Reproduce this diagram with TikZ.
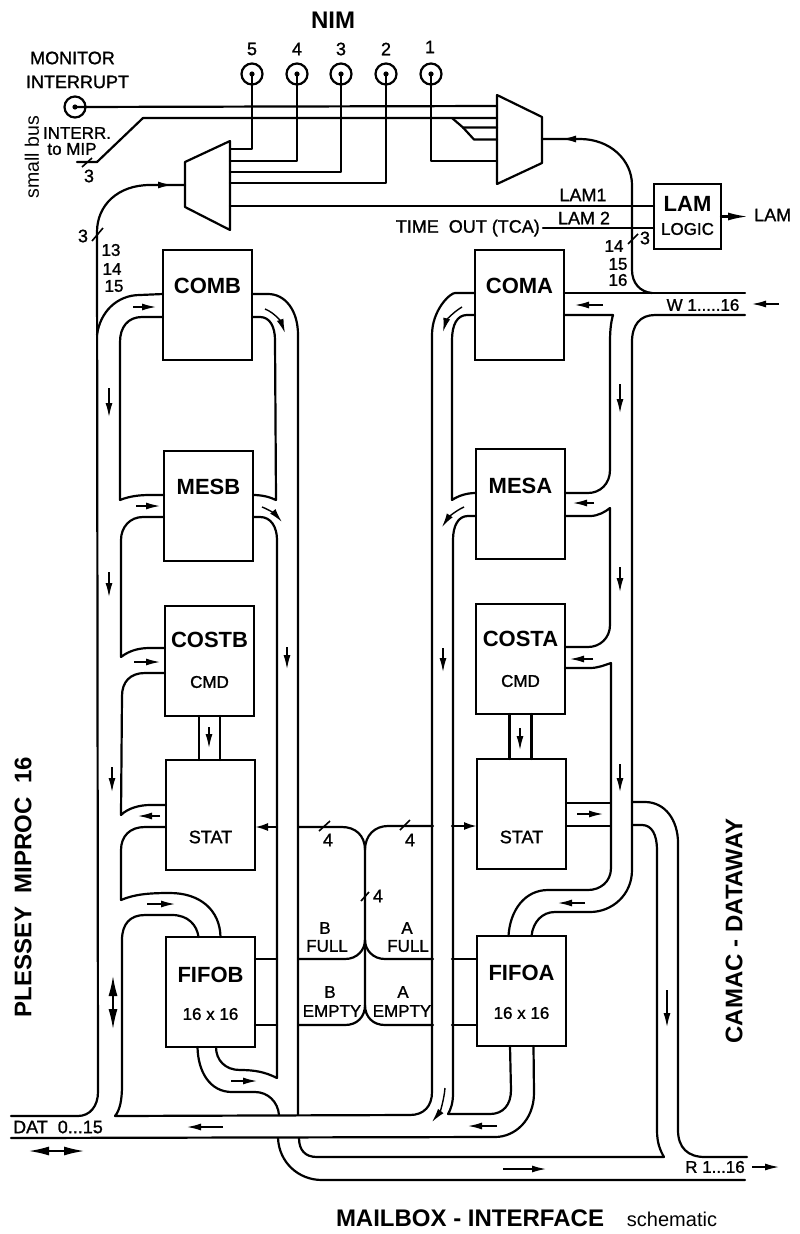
\documentclass[tikz,border=0pt]{standalone}
\usepackage{fontspec}
\setmainfont{Liberation Sans}
\newfontfamily\draftfont[FakeBold=1.2]{Liberation Sans}
\usetikzlibrary{arrows.meta, positioning}

\begin{document}
\begin{tikzpicture}[
  x=1pt, y=-1pt,
  blockbox/.style={
    rectangle, draw=black, line width=2.2pt, outer sep=0pt, inner sep=0pt,
    minimum width=89pt, minimum height=110pt,
  },
  coax/.style={circle, draw=black, line width=2.2pt, minimum size=21pt, inner sep=0pt},
  wire/.style={line width=2.2pt, black, line cap=round, line join=round},
  tick/.style={line width=1.6pt, black},
  flow/.style={line width=1.4pt, black, -{Latex[length=14pt, width=7pt]}},
  flowbig/.style={line width=1.4pt, black, {Latex[length=20pt, width=9pt]}-{Latex[length=20pt, width=9pt]}},
  blocktitle/.style={font=\fontsize{22}{24}\selectfont\bfseries, inner sep=0pt},
  bigtitle/.style={font=\fontsize{24}{26}\selectfont\bfseries, inner sep=0pt},
  blocktext/.style={font=\fontsize{17}{19}\selectfont\draftfont, inner sep=0pt},
  signal/.style={font=\fontsize{18}{20}\selectfont\draftfont, inner sep=0pt},
]
\useasboundingbox (0,0) rectangle (800,1234);

% B column
\node[blockbox, anchor=north west] (COMB) at (163,250) {};
\node[blockbox, below=91pt of COMB, xshift=1pt] (MESB) {};
\node[blockbox, below=45pt of MESB, xshift=1pt] (COSTB) {};
\node[blockbox, below=44pt of COSTB, xshift=1pt] (STATB) {};
\node[blockbox, below=67pt of STATB] (FIFOB) {};

% A column
\node[blockbox, right=223pt of COMB] (COMA) {};
\node[blockbox, below=89pt of COMA, xshift=1pt] (MESA) {};
\node[blockbox, below=45pt of MESA] (COSTA) {};
\node[blockbox, below=45pt of COSTA, xshift=1pt] (STATA) {};
\node[blockbox, below=67pt of STATA] (FIFOA) {};

\node[rectangle, draw=black, line width=2.2pt, outer sep=0pt, minimum width=67pt, minimum height=65pt, anchor=north west] (LAMBOX) at (654,184) {};

% block texts
\node[blocktitle] (combtitle) at ([yshift=-36pt]COMB.north) {COMB};
\node[blocktitle] (mesbtitle) at ([yshift=-36pt]MESB.north) {MESB};
\node[blocktitle] (costbtitle) at ([yshift=-34pt]COSTB.north) {COSTB};
\node[blocktext] (cmdb) at ([yshift=-76pt]COSTB.north) {CMD};
\node[signal] (statb) at ([yshift=-77pt]STATB.north) {STAT};
\node[blocktitle] (fifobtitle) at ([yshift=-38pt]FIFOB.north) {FIFOB};
\node[blocktext] (fifobsize) at ([yshift=-77pt]FIFOB.north) {16 x 16};
\node[blocktitle] (comatitle) at ([yshift=-36pt]COMA.north) {COMA};
\node[blocktitle] (mesatitle) at ([yshift=-37pt]MESA.north) {MESA};
\node[blocktitle] (costatitle) at ([yshift=-35pt]COSTA.north) {COSTA};
\node[blocktext] (cmda) at ([yshift=-77pt]COSTA.north) {CMD};
\node[signal] (stata) at ([yshift=-78pt]STATA.north) {STAT};
\node[blocktitle] (fifoatitle) at ([yshift=-37pt]FIFOA.north) {FIFOA};
\node[blocktext] (fifoasize) at ([yshift=-77pt]FIFOA.north) {16 x 16};
\node[blocktitle] (lamtitle) at ([yshift=-20pt]LAMBOX.north) {LAM};
\node[blocktext] (lamlogic) at ([yshift=-45pt]LAMBOX.north) {LOGIC};

% multiplexers
\draw[wire] (230,141) -- (185,162) -- (185,207) -- (230,230) -- cycle;
\draw[wire] (497,95) -- (542,117) -- (542,163) -- (497,184) -- cycle;
\coordinate (muxlin) at (185,185);
\coordinate (muxl5) at (230,149);
\coordinate (muxl4) at (230,161);
\coordinate (muxl3) at (230,172);
\coordinate (muxl2) at (230,183);
\coordinate (muxl1) at (230,206);
\coordinate (muxra) at (497,106);
\coordinate (muxrb) at (497,118);
\coordinate (muxrc) at (497,127.5);
\coordinate (muxrd) at (497,139.5);
\coordinate (muxre) at (497,161);
\coordinate (muxrout) at (542,139);

% connectors on top
\node[coax] (mon) at (75,107) {};
\fill (mon.center) circle (2.6pt);
\node[coax] (nim5) at (252,74) {};
\fill (nim5.center) circle (2.6pt);
\node[coax] (nim4) at (297,74) {};
\fill (nim4.center) circle (2.6pt);
\node[coax] (nim3) at (341,74) {};
\fill (nim3.center) circle (2.6pt);
\node[coax] (nim2) at (386,74) {};
\fill (nim2.center) circle (2.6pt);
\node[coax] (nim1) at (431,74) {};
\fill (nim1.center) circle (2.6pt);
\draw[wire] (nim5.center) |- (muxl5);
\draw[wire] (nim4.center) |- (muxl4);
\draw[wire] (nim3.center) |- (muxl3);
\draw[wire] (nim2.center) |- (muxl2);
\draw[wire] (nim1.center) |- (muxre);
\draw[wire] (mon.center) -- (muxra);
\draw[wire] (77,162) -- (97,162) -- (143,118) -- (muxrb);
\draw[wire] (452,118) -- (463,127.5) -- (muxrc);
\draw[wire] (463,127.5) -- (474,139.5) -- (muxrd);
\draw[wire] (muxl1) -- ([yshift=-22pt]LAMBOX.north west);
\draw[tick] (82,167) -- (92,158);

% left trunk
\draw[wire] (muxlin) -- (150,185) .. controls (118,185) and (97,205) .. (97,232) -- (98,1092)
  .. controls (98,1106) and (90,1116) .. (78,1116) -- (11,1116);
\draw[tick] (92,241) -- (103,228);
\draw[wire] ([yshift=-44pt]COMB.north west) -- (140,295) .. controls (117,295) and (100,312) .. (97,335);
\draw[wire] ([yshift=-67pt]COMB.north west) -- (142,317) .. controls (128,317) and (120,327) .. (120,342) -- (120,500)
  .. controls (130,496) and (140,495) .. (150,495) -- ([yshift=-44pt]MESB.north west);
\draw[wire] ([yshift=-66pt]MESB.north west) -- (143,517) .. controls (130,517) and (121,527) .. (121,540) -- (121,657)
  .. controls (130,650) and (140,648) .. (150,648) -- ([yshift=-42pt]COSTB.north west);
\draw[wire] ([yshift=-67pt]COSTB.north west) -- (145,673) .. controls (130,673) and (122,682) .. (122,696) -- (121,815)
  .. controls (128,808) and (140,805) .. (150,805) -- ([yshift=-45pt]STATB.north west);
\draw[wire] ([yshift=-67pt]STATB.north west) -- (145,827) .. controls (130,827) and (121,836) .. (121,850) -- (121,900)
  .. controls (135,894) and (150,893) .. (170,893) .. controls (200,893) and (220,910) .. ([xshift=10pt]FIFOB.north);
\draw[wire] ([xshift=-12pt]FIFOB.north) .. controls (197,925) and (188,915) .. (172,915) -- (145,915)
  .. controls (130,915) and (122,924) .. (122,940) -- (122,1085) .. controls (122,1100) and (120,1110) .. (115,1116)
  -- (410,1115) .. controls (424,1115) and (432,1106) .. (432,1092) -- (432,335) .. controls (432,310) and (450,293) .. (455,293)
  -- ([yshift=-43pt]COMA.north west);

% B right side
\draw[wire] ([yshift=-44pt]COMB.north east) -- (268,294) .. controls (285,294) and (298,310) .. (298,335) -- (298,1115);
\draw[wire] ([yshift=-67pt]COMB.north east) -- (260,317) .. controls (270,317) and (275,327) .. (275,340) -- (276,500)
  .. controls (270,497) and (262,495) .. ([yshift=-44pt]MESB.north east);
\draw[wire] ([yshift=-66pt]MESB.north east) -- (260,517) .. controls (271,517) and (277,527) .. (277,540) -- (277,1078)
  .. controls (265,1072) and (255,1070) .. (240,1070) .. controls (225,1070) and (216,1060) .. ([xshift=5.5pt]FIFOB.south);
\draw[wire] ([xshift=-13pt]FIFOB.south) .. controls (198,1072) and (210,1092) .. (232,1092) -- (255,1092)
  .. controls (268,1092) and (278,1102) .. (279,1115);
\draw[wire] ([xshift=-10.5pt]COSTB.south) -- ([xshift=-11.5pt]STATB.north);
\draw[wire] ([xshift=10.5pt]COSTB.south) -- ([xshift=9.5pt]STATB.north);
\draw[wire] ([yshift=-22pt]FIFOB.north east) -- ++(22,0);
\draw[wire] ([yshift=-88pt]FIFOB.north east) -- ++(22,0);
\draw[wire, {Latex[length=13pt, width=8pt]}-] ([yshift=-67pt]STATB.north east) -- ++(22,0);

% status lines between the columns
\draw[wire] ([yshift=-67pt, xshift=44pt]STATB.north east) -- (342,827) .. controls (355,827) and (365,835) .. (365,850)
  -- (365,1005) .. controls (365,1017) and (357,1025) .. (345,1025) -- ([yshift=-88pt, xshift=44pt]FIFOB.north east);
\draw[wire] ([yshift=-67pt, xshift=-44pt]STATA.north west) -- (388,826) .. controls (375,826) and (365,835) .. (365,850);
\draw[wire] ([yshift=-22pt, xshift=44pt]FIFOB.north east) -- (345,959) .. controls (357,959) and (365,950) .. (365,940);
\draw[wire] ([yshift=-23pt, xshift=-44pt]FIFOA.north west) -- (385,959) .. controls (373,959) and (365,950) .. (365,940);
\draw[wire] ([yshift=-89pt, xshift=-44pt]FIFOA.north west) -- (385,1025) .. controls (373,1025) and (365,1017) .. (365,1005);
\draw[tick] (319,831) -- (330,821);
\draw[tick] (400,830) -- (410,820);
\draw[tick] (361,901) -- (369,892);

% A left side
\draw[wire] ([yshift=-65pt]COMA.north west) -- (467,315) .. controls (457,315) and (452,325) .. (452,340) -- (452,500)
  .. controls (458,496) and (466,493) .. ([yshift=-44pt]MESA.north west);
\draw[wire] ([yshift=-67pt]MESA.north west) -- (468,516) .. controls (458,516) and (453,526) .. (453,540) -- (453,1093)
  .. controls (453,1103) and (451,1109) .. (448,1114) -- (490,1114) .. controls (503,1114) and (511,1105) .. (511,1090)
  -- ([xshift=-11.5pt]FIFOA.south);
\draw[wire] ([xshift=12pt]FIFOA.south) -- (534,1093) .. controls (534,1120) and (515,1137) .. (495,1137) -- (11,1138);
\draw[wire] ([xshift=-11pt]COSTA.south) -- ([xshift=-12pt]STATA.north);
\draw[wire] ([xshift=11pt]COSTA.south) -- ([xshift=10pt]STATA.north);
\draw[wire, {Latex[length=13pt, width=8pt]}-] ([yshift=-67pt]STATA.north west) -- ++(-25,0);
\draw[wire] ([yshift=-23pt]FIFOA.north west) -- ++(-25,0);
\draw[wire] ([yshift=-89pt]FIFOA.north west) -- ++(-25,0);

% A right side
\draw[wire] ([yshift=-43pt]COMA.north east) -- (745,293);
\draw[wire] ([yshift=-65pt]COMA.north east) -- (613,315) .. controls (611,322) and (610,330) .. (610,342) -- (610,470)
  .. controls (610,484) and (600,493) .. (588,493) -- ([yshift=-44pt]MESA.north east);
\draw[wire] ([yshift=-67pt]MESA.north east) -- (590,516) .. controls (598,516) and (605,512) .. (610,508) -- (610,625)
  .. controls (610,638) and (600,647) .. (588,647) -- ([yshift=-43pt]COSTA.north east);
\draw[wire] ([yshift=-64pt]COSTA.north east) -- (590,668) .. controls (598,668) and (605,665) .. (611,663) -- (611,868)
  .. controls (611,882) and (600,890) .. (588,890) -- (548,890) .. controls (525,890) and (510,910) .. ([xshift=-13pt]FIFOA.north);
\draw[wire] (745,315) -- (655,315) .. controls (640,315) and (632,325) .. (632,342) -- (632,870)
  .. controls (632,895) and (612,912) .. (590,912) -- (555,912) .. controls (542,912) and (533,922) .. ([xshift=10pt]FIFOA.north);
\draw[wire] ([yshift=-44pt]STATA.north east) -- ++(44,0);
\draw[wire] ([yshift=-67pt]STATA.north east) -- ++(44,0);

% dataway read and write
\draw[wire] (632,802) -- (645,802) .. controls (665,802) and (678,820) .. (678,843) -- (678,1130)
  .. controls (678,1148) and (688,1157) .. (705,1157) -- (747,1157);
\draw[wire] (632,825) -- (642,825) .. controls (652,825) and (657,835) .. (657,850) -- (657,1130)
  .. controls (657,1143) and (660,1150) .. (664,1157) -- (317,1157) .. controls (305,1157) and (299,1150) .. (299,1138);
\draw[wire] (278,1138) .. controls (279,1162) and (298,1180) .. (322,1180) -- (745,1180);
\draw[wire] (muxrout) -- (580,139) .. controls (610,139) and (632,160) .. (632,185) -- (632,270)
  .. controls (632,283) and (640,292) .. (652,293);
\draw[tick] (628,244) -- (638,234);

% lam
\node[signal, anchor=east] (timeout) at (540,228) {TIME\ \ OUT (TCA)};
\draw[wire] ([xshift=3pt]timeout.east) -- ([yshift=-44pt]LAMBOX.north west);
\node[signal, anchor=west] (lamout) at (754,215) {LAM};
\draw[wire, -{Latex[length=20pt, width=8pt]}] (LAMBOX.east) -- ++(27,0);

% direction marks
\draw[flow] (150,185) -- (172,185);
\draw[flow] (582,139) -- (562,139);
\draw[flow] (133,307) -- (156,307);
\draw[flow] (265,309) .. controls (275,313) and (281,322) .. (285,333);
\draw[flow] (109,388) -- (109,417);
\draw[flow] (136,506) -- (160,506);
\draw[flow] (262,507) .. controls (270,510) and (276,515) .. (282,522);
\draw[flow] (109,572) -- (109,597);
\draw[flow] (134,662) -- (160,662);
\draw[flow] (209,727) -- (209,748);
\draw[flow] (287,647) -- (287,669);
\draw[flow] (112,767) -- (112,792);
\draw[flow] (160,816) -- (138,816);
\draw[flow] (147,904) -- (175,904);
\draw[flowbig] (113,976) -- (113,1029);
\draw[flow] (231,1081) -- (257,1081);
\draw[flow] (223,1127) -- (187,1127);
\draw[flowbig] (29,1151) -- (84,1151);
\draw[flow] (462,307) .. controls (452,313) and (446,321) .. (443,332);
\draw[flow] (464,507) .. controls (455,511) and (448,518) .. (442,527);
\draw[flow] (443,648) -- (443,672);
\draw[flow] (520,728) -- (520,750);
\draw[flow] (620,384) -- (620,413);
\draw[flow] (594,503) -- (573,503);
\draw[flow] (620,567) -- (620,592);
\draw[flow] (593,659) -- (570,659);
\draw[flow] (620,764) -- (620,792);
\draw[flow] (577,814) -- (603,814);
\draw[flow] (585,903) -- (558,903);
\draw[flow] (667,990) -- (667,1027);
\draw[flow] (497,1126) -- (468,1126);
\draw[flow] (445,1088) .. controls (444,1100) and (440,1112) .. (432,1122);
\draw[flow] (503,1169) -- (546,1169);
\draw[flow] (752,1167) -- (779,1167);
\draw[flow] (603,305) -- (575,305);
\draw[flow] (779,304) -- (752,304);

% labels
\node[bigtitle] (nimtitle) at (333,20) {NIM};
\node[signal] (nimno5) at (252,49) {5};
\node[signal] (nimno4) at (297,49) {4};
\node[signal] (nimno3) at (341,49) {3};
\node[signal] (nimno2) at (386,49) {2};
\node[signal] (nimno1) at (430,47) {1};
\node[signal] (monitor) at (72.5,58) {MONITOR};
\node[signal] (interrupt) at (77.5,82) {INTERRUPT};
\node[font=\fontsize{19.5}{21}\selectfont, inner sep=0pt, rotate=90] (smallbus) at (32,157) {small bus};
\node[blocktext] (interr) at (77,133) {INTERR.};
\node[blocktext] (tomip) at (72,149) {to MIP};
\node[signal] (tickthree) at (89,176) {3};
\node[signal] (trunkthree) at (83,236) {3};
\node[blocktext] (no13) at (111,250) {13};
\node[blocktext] (no14) at (112,269) {14};
\node[blocktext] (no15) at (114,286) {15};
\node[blocktext] (no14r) at (614,246) {14};
\node[blocktext] (no15r) at (618,264) {15};
\node[blocktext] (no16r) at (618,280) {16};
\node[signal] (threer) at (645,238) {3};
\node[signal] (lamone) at (583,195) {LAM1};
\node[signal] (lamtwo) at (584,218) {LAM 2};
\node[blocktext] (wbus) at (703,305) {W 1.....16};
\node[blocktext] (rbus) at (715,1167) {R 1...16};
\node[signal] (datbus) at (58,1127) {DAT\ \ 0...15};
\node[signal] (fourb) at (328,840) {4};
\node[signal] (foura) at (410,840) {4};
\node[signal] (fourc) at (378,896) {4};
\node[blocktext] (bfullb) at (325,928) {B};
\node[blocktext] (bfullw) at (327,946) {FULL};
\node[blocktext] (afulla) at (407,928) {A};
\node[blocktext] (afullw) at (408,946) {FULL};
\node[blocktext] (bemptyb) at (330,992) {B};
\node[blocktext] (bemptyw) at (332,1011) {EMPTY};
\node[blocktext] (aemptya) at (403,992) {A};
\node[blocktext] (aemptyw) at (402,1011) {EMPTY};
\node[bigtitle, rotate=90] (plessey) at (23,887) {PLESSEY\ \ MIPROC\ \ 16};
\node[bigtitle, rotate=90] (camac) at (734,931) {CAMAC - DATAWAY};
\node[bigtitle] (mailbox) at (470,1218) {MAILBOX - INTERFACE};
\node[font=\fontsize{20}{22}\selectfont, inner sep=0pt] (schematic) at (672,1219) {schematic};

\end{tikzpicture}
\end{document}
